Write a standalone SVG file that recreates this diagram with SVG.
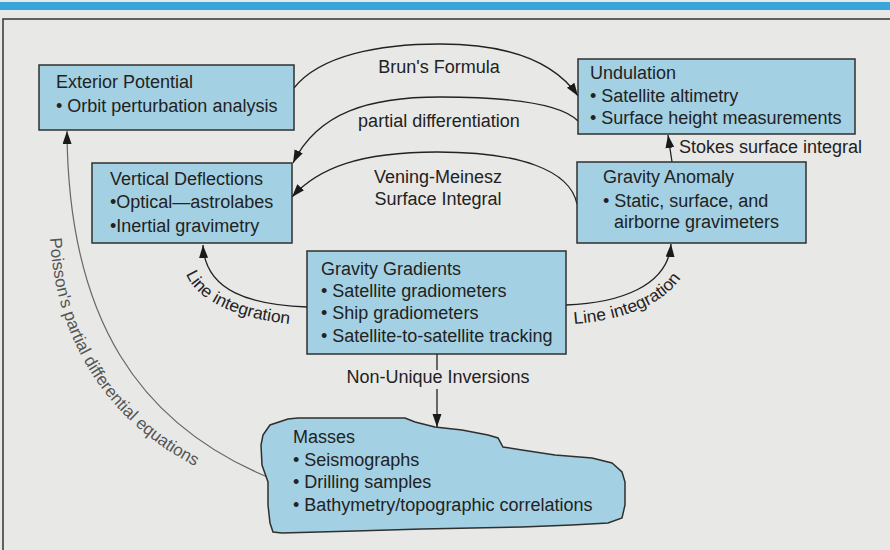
<svg xmlns="http://www.w3.org/2000/svg" width="890" height="550" viewBox="0 0 890 550">
<defs>
<style>
.bg{fill:#e8e8e6}
.box{fill:#a3d1e3;stroke:#2f2f2f;stroke-width:1.5}
.t{font-family:"Liberation Sans",Arial,sans-serif;font-size:18px;fill:#222}
.lbl{font-family:"Liberation Sans",Arial,sans-serif;font-size:18px;fill:#222;text-anchor:middle}
.curv{font-family:"Liberation Sans",Arial,sans-serif;font-size:17px;fill:#222}
.gray{font-family:"Liberation Sans",Arial,sans-serif;font-size:17px;fill:#555}
.c{fill:none;stroke:#222;stroke-width:1.3}
.cg{fill:none;stroke:#666;stroke-width:1.2}
</style>
<marker id="ah" markerUnits="userSpaceOnUse" markerWidth="14" markerHeight="10" refX="13" refY="4.5" orient="auto">
<path d="M0,0 L13,4.5 L0,9 z" fill="#1a1a1a"/>
</marker>
<path id="pLineL" d="M186,274 C197,302 240,320 300,325"/>
<path id="pLineR" d="M574,324 C626,320 672,302 686,268"/>
<path id="pPoisson" d="M50,238 C55,332 100,422 207,472"/>
</defs>
<rect class="bg" x="0" y="0" width="890" height="550"/>
<rect x="0" y="2" width="890" height="8" fill="#3aa5da"/>
<path d="M3,550 L3,19 L890,19" fill="none" stroke="#333" stroke-width="1.5"/>

<g id="connectors">
<path class="c" d="M294,88 C320,55 380,44 440,44 C500,44 552,58 578,96" marker-end="url(#ah)"/>
<path class="c" d="M578,121 C560,102 500,97 440,97 C370,97 318,112 293,163" marker-end="url(#ah)"/>
<path class="c" d="M577,204 C570,170 520,152 437,152 C360,152 318,168 292,197" marker-end="url(#ah)"/>
<path class="c" d="M672,162 L668,135" marker-end="url(#ah)"/>
<path class="c" d="M307,307 C252,305 205,292 203,245" marker-end="url(#ah)"/>
<path class="c" d="M566,305 C620,303 668,286 671,244" marker-end="url(#ah)"/>
<path class="c" d="M437,354 L437,370 M437,389 L437,427" marker-end="url(#ah)"/>
<path class="cg" d="M270,478 C140,425 68,320 67,131" marker-end="url(#ah)"/>
<text class="lbl" x="439" y="73">Brun's Formula</text>
<text class="lbl" x="439" y="127">partial differentiation</text>
<text class="lbl" x="438" y="183">Vening-Meinesz</text>
<text class="lbl" x="438" y="205">Surface Integral</text>
<text class="t" x="679" y="153">Stokes surface integral</text>
<text class="lbl" x="438" y="383">Non-Unique Inversions</text>
<text class="curv"><textPath href="#pLineL" textLength="120" lengthAdjust="spacingAndGlyphs">Line integration</textPath></text>
<text class="curv"><textPath href="#pLineR" textLength="120" lengthAdjust="spacingAndGlyphs">Line integration</textPath></text>
<text class="gray"><textPath href="#pPoisson" textLength="284" lengthAdjust="spacingAndGlyphs">Poisson's partial differential equations</textPath></text>
</g>

<g id="exterior">
<rect class="box" x="39" y="65" width="255" height="65"/>
<text class="t" x="56" y="88">Exterior Potential</text>
<text class="t" x="56" y="112">• Orbit perturbation analysis</text>
</g>
<g id="undulation">
<rect class="box" x="578" y="59" width="277" height="75"/>
<text class="t" x="590" y="79">Undulation</text>
<text class="t" x="590" y="102">• Satellite altimetry</text>
<text class="t" x="590" y="124">• Surface height measurements</text>
</g>
<g id="vertical">
<rect class="box" x="92" y="163" width="200" height="80"/>
<text class="t" x="110" y="185">Vertical Deflections</text>
<text class="t" x="110" y="208">•Optical—astrolabes</text>
<text class="t" x="110" y="232">•Inertial gravimetry</text>
</g>
<g id="anomaly">
<rect class="box" x="577" y="162" width="229" height="81"/>
<text class="t" x="603" y="183">Gravity Anomaly</text>
<text class="t" x="603" y="207">• Static, surface, and</text>
<text class="t" x="614" y="228">airborne gravimeters</text>
</g>
<g id="gradients">
<rect class="box" x="307" y="251" width="259" height="103"/>
<text class="t" x="321" y="275">Gravity Gradients</text>
<text class="t" x="321" y="297">• Satellite gradiometers</text>
<text class="t" x="321" y="319">• Ship gradiometers</text>
<text class="t" x="321" y="342">• Satellite-to-satellite tracking</text>
</g>
<g id="masses">
<path class="box" d="M263,435 L270,425 L288,419 L298,418 L405,418 L415,422 L435,427 L462,430 L488,435 L498,438 L503,447 L522,450 L555,455 L592,458 L612,463 L622,472 L625,482 L625,505 L622,518 L608,523 L572,525 L522,527 L422,529 L355,531 L282,533 L273,532 L270,523 L268,505 L268,482 L262,465 L261,445 Z"/>
<text class="t" x="293" y="443">Masses</text>
<text class="t" x="293" y="466">• Seismographs</text>
<text class="t" x="293" y="488">• Drilling samples</text>
<text class="t" x="293" y="511">• Bathymetry/topographic correlations</text>
</g>
</svg>
